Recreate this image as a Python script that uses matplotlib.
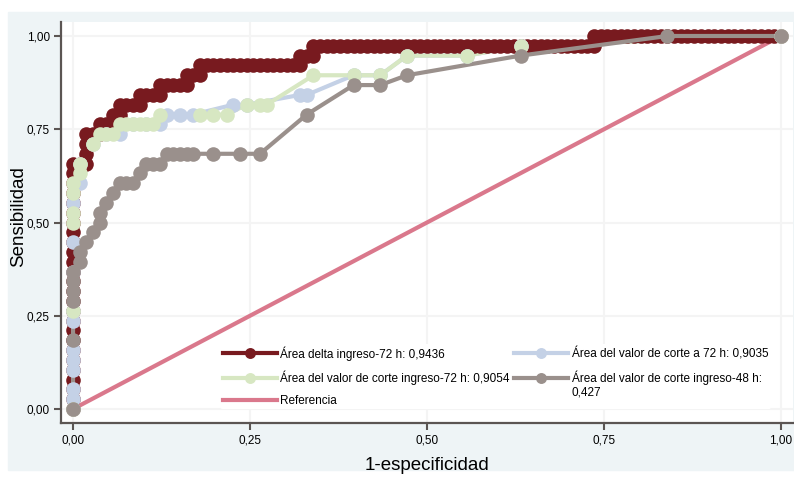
import numpy as np
import matplotlib
matplotlib.use("Agg")
import matplotlib.pyplot as plt
from matplotlib.patches import Rectangle
from matplotlib.legend_handler import HandlerLine2D

# number of cases with / without the outcome
n_pos = 38
n_neg = 106

# delta ingreso-72 h: outcome of each case, sorted by decreasing score
delta_order = ("P" * 25 + "NN" + "PPP" + "NN" + "P" + "NN" + "P" + "N" + "P"
               + "NNN" + "P" + "NNN" + "P" + "NNNN" + "P" + "NN" + "P"
               + "N" * 15 + "P" + "NN" + "P" + "N" * 42 + "P" + "N" * 28)

# ROC vertices (false positives, true positives) of the cut-off scores
corte72_fp = [0, 0, 0, 0, 0, 0, 0, 0, 0, 0, 0, 1, 1, 3, 5, 7, 9, 11, 13, 14, 16,
              18, 24, 26, 34, 35, 42, 46, 50, 59, 67, 106]
corte72_tp = [0, 1, 2, 4, 5, 6, 9, 10, 14, 17, 21, 23, 25, 27, 28, 28, 29, 29, 29,
              30, 30, 30, 31, 31, 32, 32, 34, 34, 36, 36, 37, 38]

ing72_fp = [0, 0, 0, 0, 0, 0, 1, 1, 3, 4, 5, 6, 7, 8, 9, 10, 11, 12, 13, 19, 21,
            23, 26, 28, 29, 36, 42, 46, 50, 59, 67, 106]
ing72_tp = [0, 10, 19, 20, 22, 23, 24, 25, 27, 28, 28, 28, 29, 29, 29, 29, 29, 29,
            30, 30, 30, 30, 31, 31, 31, 34, 34, 34, 36, 36, 37, 38]

ing48_fp = [0, 0, 0, 0, 0, 0, 1, 1, 2, 3, 4, 4, 5, 6, 7, 8, 9, 10, 11, 12, 13, 14,
            15, 16, 17, 18, 21, 25, 28, 35, 42, 46, 50, 67, 89, 106]
ing48_tp = [0, 7, 11, 12, 13, 14, 15, 16, 17, 18, 19, 20, 21, 22, 23, 23, 23, 24,
            25, 25, 25, 26, 26, 26, 26, 26, 26, 26, 26, 30, 33, 33, 34, 36, 38, 38]

ref_x = [0, 1]
ref_y = [0, 1]

labels = {
    "delta": "Área delta ingreso-72 h: 0,9436",
    "corte72": "Área del valor de corte a 72 h: 0,9035",
    "ing72": "Área del valor de corte ingreso-72 h: 0,9054",
    "ing48": "Área del valor de corte ingreso-48 h:\n0,427",
    "ref": "Referencia",
}
ticks = [0, 0.25, 0.5, 0.75, 1.0]
tick_labels = ["0,00", "0,25", "0,50", "0,75", "1,00"]

plt.rcParams["font.family"] = ["Liberation Sans", "DejaVu Sans"]


class FirstLineHandler(HandlerLine2D):
    """Legend handle placed level with the first line of a two-line label."""

    def create_artists(self, legend, orig_handle, xdescent, ydescent, width,
                       height, fontsize, trans):
        artists = super().create_artists(legend, orig_handle, xdescent, ydescent,
                                         width, height, fontsize, trans)
        for a in artists:
            a.set_ydata(np.asarray(a.get_ydata()) + 0.6 * fontsize)
        return artists


# roc points of the delta score
is_neg = np.array([c == "N" for c in delta_order])
delta_fpr = np.concatenate([[0], np.cumsum(is_neg)]) / n_neg
delta_tpr = np.concatenate([[0], np.cumsum(~is_neg)]) / n_pos

fig = plt.figure(figsize=(7.94, 4.79), dpi=100)
fig.patches.append(Rectangle((8 / 794, 9 / 479), 786 / 794, 458 / 479,
                             transform=fig.transFigure, color="#eef4f6", zorder=-10))
ax = fig.add_axes([61 / 794, 56 / 479, 732 / 794, 401 / 479])
ax.set_facecolor("white")

ms = 10.5
red, blue, green, grey, pink = "#781a1f", "#c4d1e6", "#d7e7c2", "#9a908c", "#da788c"

ax.plot(ref_x, ref_y, color=pink, lw=3, zorder=1)

ax.plot(delta_fpr, delta_tpr, color=red, lw=3, marker="o", ms=ms, mew=0, zorder=2)

# lines of the cut-off curves sit under the markers
for fp, tp, c, zl, zm in [(corte72_fp, corte72_tp, blue, 1.5, 2.5),
                          (ing72_fp, ing72_tp, green, 1.6, 2.6)]:
    x = np.array(fp) / n_neg
    y = np.array(tp) / n_pos
    ax.plot(x, y, color=c, lw=3, zorder=zl)
    ax.plot(x, y, ls="none", marker="o", ms=ms, mew=0, color=c, zorder=zm)

x48 = np.array(ing48_fp) / n_neg
y48 = np.array(ing48_tp) / n_pos
ax.plot(x48, y48, color=grey, lw=3, zorder=2.2)
ax.plot(x48, y48, ls="none", marker="o", ms=ms, mew=0, color=grey, zorder=3)


def handle(c):
    return plt.Line2D([], [], color=c, lw=3, marker="o", ms=ms, mew=0)


h_ref = plt.Line2D([], [], color=pink, lw=3)
h_grey = handle(grey)
ax.legend([handle(red), handle(green), h_ref, handle(blue), h_grey],
          [labels["delta"], labels["ing72"], labels["ref"], labels["corte72"],
           labels["ing48"]],
          handler_map={h_grey: FirstLineHandler()},
          ncol=2, loc="upper left", bbox_to_anchor=(0.2095, 0.2125),
          fontsize=8.5, handlelength=4.6, handletextpad=0.3, columnspacing=0.35,
          labelspacing=0.85, markerscale=0.75, borderpad=0.2,
          frameon=True, facecolor="white", edgecolor="none", framealpha=1)

ax.set_xlim(-0.017, 1.017)
ax.set_ylim(-0.0375, 1.0375)
ax.set_xticks(ticks)
ax.set_xticklabels(tick_labels)
ax.set_yticks(ticks)
ax.set_yticklabels(tick_labels)
ax.grid(color="#f4f4f4", lw=1.5)
ax.set_axisbelow(True)
for s in ["top", "right"]:
    ax.spines[s].set_visible(False)
for s in ["left", "bottom"]:
    ax.spines[s].set_color("#5b5553")
    ax.spines[s].set_linewidth(1.6)
ax.tick_params(direction="out", length=5, width=1.5, color="#5b5553",
               labelsize=8.5, pad=3)
ax.set_xlabel("1-especificidad", fontsize=13.5, labelpad=8)
ax.set_ylabel("Sensibilidad", fontsize=13.5)
ax.yaxis.set_label_coords(-0.0458, 0.516)

fig.savefig("out.png", dpi=100, facecolor="white")
